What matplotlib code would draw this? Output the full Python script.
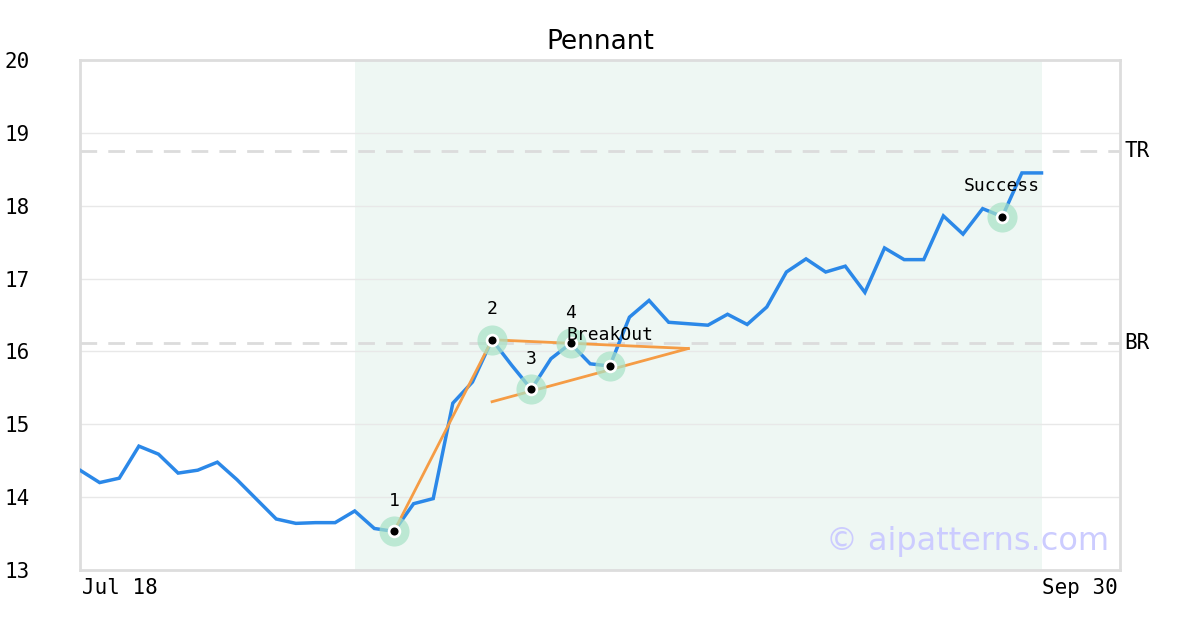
import matplotlib
matplotlib.use("Agg")
import matplotlib.pyplot as plt

# ---- data ----
prices = [14.37, 14.20, 14.26, 14.70, 14.59, 14.33, 14.37, 14.48, 14.24, 13.97,
          13.70, 13.64, 13.65, 13.65, 13.81, 13.57, 13.53, 13.91, 13.98, 15.29,
          15.58, 16.16, 15.81, 15.48, 15.90, 16.11, 15.83, 15.80, 16.47, 16.70,
          16.40, 16.38, 16.36, 16.51, 16.37, 16.61, 17.09, 17.27, 17.09, 17.17,
          16.81, 17.42, 17.26, 17.26, 17.86, 17.61, 17.96, 17.85, 18.45, 18.45]
x_labels = ["Jul 18", "Sep 30"]
y_ticks = [13, 14, 15, 16, 17, 18, 19, 20]
tr_level = 18.75
br_level = 16.11
pattern_idx = [16, 21, 23, 25, 27]
pattern_labels = ["1", "2", "3", "4", "BreakOut"]
success_idx = 47
success_label = "Success"
pole_line_x = [16, 21]
pole_line_y = [13.53, 16.16]
upper_line_x = [21, 31]
upper_line_y = [16.16, 16.04]
lower_line_x = [21, 31]
lower_line_y = [15.31, 16.04]
shade_range = [14, 49]
x_range = [0, 53]

BLUE = "#2b88e8"
ORANGE = "#f59c45"
GRID = "#e8e8e8"
MONO = "DejaVu Sans Mono"

fig = plt.figure(figsize=(12, 6.3), dpi=100)
ax = fig.add_axes([80/1200, 60/630, 1040/1200, 510/630])

xs = list(range(len(prices)))
ax.axvspan(shade_range[0], shade_range[1], color="#eef7f3", zorder=0, lw=0)
ax.set_xlim(*x_range)
ax.set_ylim(y_ticks[0], y_ticks[-1])
ax.set_yticks(y_ticks)
ax.yaxis.grid(True, color=GRID, lw=1, zorder=0.5)
ax.set_axisbelow(True)

ax.axhline(tr_level, color="#dcdcdc", lw=2, dashes=(6, 4), zorder=1)
ax.axhline(br_level, color="#dcdcdc", lw=2, dashes=(6, 4), zorder=1)

ax.plot(xs, prices, color=BLUE, lw=2.5, zorder=3, solid_joinstyle="miter")

ax.plot(pole_line_x, pole_line_y, color=ORANGE, lw=2, zorder=4)
ax.plot(upper_line_x, upper_line_y, color=ORANGE, lw=2, zorder=4)
ax.plot(lower_line_x, lower_line_y, color=ORANGE, lw=2, zorder=4)

mark_idx = pattern_idx + [success_idx]
mark_lab = pattern_labels + [success_label]
mx = mark_idx
my = [prices[i] for i in mark_idx]
ax.scatter(mx, my, s=470, color="#a8e2c6", alpha=0.7, lw=0, zorder=5)
ax.scatter(mx, my, s=95, color="white", lw=0, zorder=6)
ax.scatter(mx, my, s=34, color="black", lw=0, zorder=7)
for x, y, lab in zip(mx, my, mark_lab):
    ax.annotate(lab, (x, y), xytext=(0, 22), textcoords="offset points",
                ha="center", va="center", fontsize=13, family=MONO, zorder=8)

for sp in ax.spines.values():
    sp.set_color("#dddddd")
    sp.set_linewidth(2)

ax.tick_params(axis="y", length=0, labelsize=15, pad=36)
for lab in ax.get_yticklabels():
    lab.set_family(MONO)
ax.set_xticks([])
ax.text(0.002, -0.035, x_labels[0], transform=ax.transAxes, ha="left", va="center",
        fontsize=15, family=MONO)
ax.text(0.998, -0.035, x_labels[1], transform=ax.transAxes, ha="right", va="center",
        fontsize=15, family=MONO)

ax.text(1.004, tr_level, "TR", transform=ax.get_yaxis_transform(), ha="left",
        va="center", fontsize=15, family=MONO)
ax.text(1.004, br_level, "BR", transform=ax.get_yaxis_transform(), ha="left",
        va="center", fontsize=15, family=MONO)

ax.set_title("Pennant", fontsize=19, pad=8)
ax.text(0.99, 0.055, "\u00a9 aipatterns.com", transform=ax.transAxes, ha="right",
        va="center", fontsize=23, color="#ccccff", zorder=9)

fig.savefig("out.png", dpi=100)
